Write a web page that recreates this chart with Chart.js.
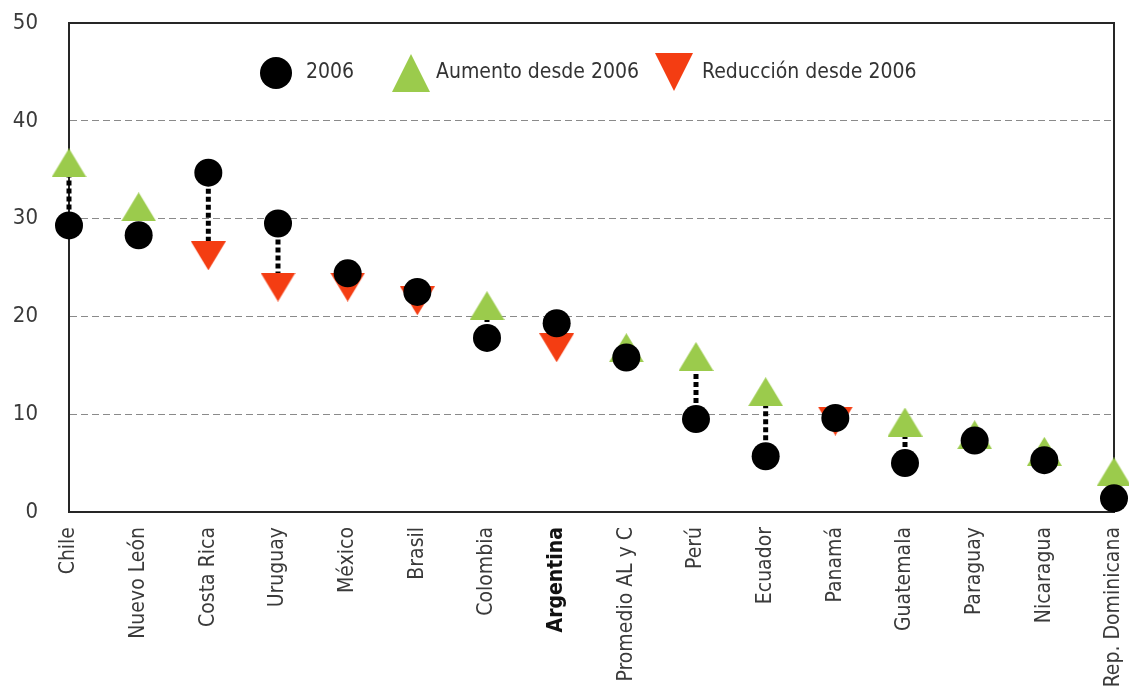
<!DOCTYPE html>
<html>
<head>
<meta charset="utf-8">
<script src="https://cdn.jsdelivr.net/npm/chart.js@4.4.1/dist/chart.umd.min.js"></script>
<style>
html, body { margin: 0; background: #fff; }
</style>
</head>
<body>
<canvas id="grafico" width="1129" height="688"></canvas>
<script>
// DATOS
const paises = ["Chile", "Nuevo León", "Costa Rica", "Uruguay", "México", "Brasil", "Colombia", "Argentina",
    "Promedio AL y C", "Perú", "Ecuador", "Panamá", "Guatemala", "Paraguay", "Nicaragua", "Rep. Dominicana"];
const valores2006 = [29.3, 28.3, 34.7, 29.5, 24.4, 22.5, 17.8, 19.3, 15.8, 9.5, 5.7, 9.6, 5.0, 7.3, 5.3, 1.4];
const aumento = [35.7, 31.2, null, null, null, null, 21.1, null, 16.8, 15.9, 12.3, null, 9.2, 7.9, 6.2, 4.1];
const reduccion = [null, null, 26.2, 23.0, 23.0, 21.6, null, 16.8, null, null, null, 9.3, null, null, null, null];
const yTicks = [0, 10, 20, 30, 40, 50];
const etiquetas = ["2006", "Aumento desde 2006", "Reducción desde 2006"];

const fuente = "'Liberation Sans Narrow', 'DejaVu Sans Condensed', sans-serif";
const verde = "#9bcb4c";
const rojo = "#f43d12";

// triangulos centrados en su caja
function triangulo(w, h, color, arriba) {
    const c = document.createElement("canvas");
    c.width = w; c.height = h;
    const g = c.getContext("2d");
    g.fillStyle = color;
    g.beginPath();
    if (arriba) { g.moveTo(w / 2, 0); g.lineTo(w, h); g.lineTo(0, h); }
    else { g.moveTo(0, 0); g.lineTo(w, 0); g.lineTo(w / 2, h); }
    g.closePath();
    g.fill();
    return c;
}
const triVerde = triangulo(35, 29, verde, true);
const triRojo = triangulo(35, 29, rojo, false);

// marco superior/derecho y lineas punteadas
const conectores = {
    id: "conectores",
    beforeDatasetsDraw(chart) {
        const { ctx, chartArea: a, scales: { x, y } } = chart;
        ctx.save();
        ctx.strokeStyle = "#262626";
        ctx.lineWidth = 2;
        ctx.beginPath();
        ctx.moveTo(a.left, a.top);
        ctx.lineTo(a.right, a.top);
        ctx.lineTo(a.right, a.bottom);
        ctx.stroke();

        ctx.strokeStyle = "#000";
        ctx.lineWidth = 5;
        ctx.setLineDash([5, 3]);
        paises.forEach((p, i) => {
            const fin = aumento[i] != null ? aumento[i] : reduccion[i];
            if (fin == null) return;
            const px = x.getPixelForValue(i);
            ctx.beginPath();
            ctx.moveTo(px, y.getPixelForValue(valores2006[i]));
            ctx.lineTo(px, y.getPixelForValue(fin));
            ctx.stroke();
        });
        ctx.restore();
    }
};

// leyenda dentro del area
const leyenda = {
    id: "leyenda",
    afterDatasetsDraw(chart) {
        const ctx = chart.ctx;
        const cy = 73;
        ctx.save();
        ctx.fillStyle = "#000";
        ctx.beginPath();
        ctx.arc(276, cy, 16, 0, Math.PI * 2);
        ctx.fill();

        ctx.fillStyle = verde;
        ctx.beginPath();
        ctx.moveTo(411, cy - 19); ctx.lineTo(430, cy + 19); ctx.lineTo(392, cy + 19);
        ctx.closePath(); ctx.fill();

        ctx.fillStyle = rojo;
        ctx.beginPath();
        ctx.moveTo(655, cy - 20); ctx.lineTo(693, cy - 20); ctx.lineTo(674, cy + 18);
        ctx.closePath(); ctx.fill();

        ctx.fillStyle = "#333";
        ctx.font = "21px " + fuente;
        ctx.textBaseline = "middle";
        ctx.textAlign = "left";
        ctx.fillText(etiquetas[0], 306, cy);
        ctx.fillText(etiquetas[1], 436, cy);
        ctx.fillText(etiquetas[2], 702, cy);
        ctx.restore();
    }
};

const grafico = new Chart(document.getElementById("grafico"), {
    type: "line",
    data: {
        labels: paises,
        datasets: [
            {
                label: etiquetas[0],
                data: valores2006,
                showLine: false,
                pointStyle: "circle",
                pointRadius: 14,
                pointHoverRadius: 14,
                pointBackgroundColor: "#000",
                pointBorderWidth: 0,
                clip: false
            },
            {
                label: etiquetas[1],
                data: aumento,
                showLine: false,
                pointStyle: triVerde,
                pointRadius: 14,
                clip: false
            },
            {
                label: etiquetas[2],
                data: reduccion,
                showLine: false,
                pointStyle: triRojo,
                pointRadius: 14,
                clip: false
            }
        ]
    },
    options: {
        responsive: false,
        animation: false,
        layout: { padding: { top: 23, right: 15, left: 0, bottom: 0 } },
        plugins: { legend: { display: false }, tooltip: { enabled: false } },
        scales: {
            x: {
                offset: false,
                grid: { display: false, drawTicks: false },
                border: { display: true, color: "#262626", width: 2 },
                ticks: {
                    autoSkip: false,
                    minRotation: 90,
                    maxRotation: 90,
                    padding: 15,
                    color: (c) => c.tick && c.tick.label === "Argentina" ? "#111" : "#3a3a3a",
                    font: (c) => ({
                        family: fuente,
                        size: 21,
                        weight: c.tick && c.tick.label === "Argentina" ? "bold" : "normal"
                    })
                },
                afterFit: (s) => {
                    s.height = 176;
                    s.paddingLeft = 0; s.paddingRight = 0; s.paddingTop = 0; s.paddingBottom = 0;
                }
            },
            y: {
                min: yTicks[0],
                max: yTicks[yTicks.length - 1],
                afterBuildTicks: (s) => { s.ticks = yTicks.map(v => ({ value: v })); },
                grid: {
                    drawTicks: false,
                    lineWidth: 1,
                    color: (c) => (c.tick.value === 0 || c.tick.value === 50) ? "rgba(0,0,0,0)" : "#8a8a8a"
                },
                border: { display: true, color: "#262626", width: 2, dash: [7, 4] },
                ticks: {
                    padding: 31,
                    color: "#3a3a3a",
                    font: { family: fuente, size: 22 }
                },
                afterFit: (s) => {
                    s.width = 69;
                    s.paddingLeft = 0; s.paddingRight = 0; s.paddingTop = 0; s.paddingBottom = 0;
                }
            }
        }
    },
    plugins: [conectores, leyenda]
});
</script>
</body>
</html>
